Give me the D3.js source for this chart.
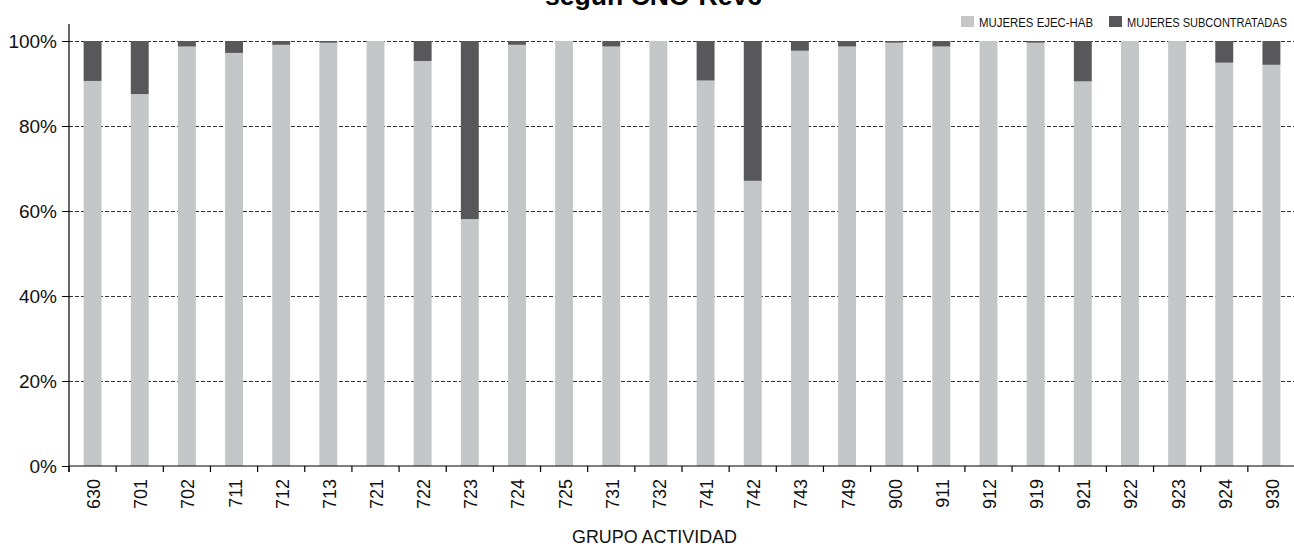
<!DOCTYPE html>
<html>
<head>
<meta charset="utf-8">
<script src="https://cdn.jsdelivr.net/npm/d3@7"></script>
<style>
  body { margin: 0; background: #fff; }
  svg { display: block; }
</style>
</head>
<body>
<script>
// grupos de actividad y reparto (%) de mujeres
const grupos = ["630","701","702","711","712","713","721","722","723","724","725","731","732",
  "741","742","743","749","900","911","912","919","921","922","923","924","930"];
const ejecHab = [90.6, 87.5, 98.7, 97.2, 99.1, 99.6, 100, 95.3, 58.1, 99.1, 100, 98.7, 100,
  90.7, 67.1, 97.7, 98.7, 99.6, 98.7, 100, 99.6, 90.5, 100, 100, 94.9, 94.4];
const subcontratadas = ejecHab.map(v => 100 - v);
const yTicks = [0, 20, 40, 60, 80, 100];
const series = ["MUJERES EJEC-HAB", "MUJERES SUBCONTRATADAS"];
const colores = ["#c5c6c8", "#58585a"];

const width = 1294, height = 546;
const mLeft = 69, mRight = 1295, mTop = 41, mBottom = 466;
const fuente = "'Liberation Sans', Arial, sans-serif";

const svg = d3.select("body").append("svg")
  .attr("width", width)
  .attr("height", height);

const x = d3.scaleBand().domain(grupos).range([mLeft, mRight]).padding(0);
const y = d3.scaleLinear().domain([0, 100]).range([mBottom, mTop]);

const rows = grupos.map((g, i) => ({ grupo: g, ejec: ejecHab[i], sub: subcontratadas[i] }));
const stack = d3.stack().keys(["ejec", "sub"])(rows);

// grid
svg.append("g")
  .selectAll("line")
  .data(yTicks.filter(d => d > 0))
  .join("line")
  .attr("x1", mLeft).attr("x2", width)
  .attr("y1", d => Math.round(y(d)) + 0.5)
  .attr("y2", d => Math.round(y(d)) + 0.5)
  .attr("stroke", "#333")
  .attr("stroke-width", 1)
  .attr("stroke-dasharray", "4,2");

// barras
const barW = x.bandwidth() * 0.38;
svg.append("g")
  .selectAll("g")
  .data(stack)
  .join("g")
  .attr("fill", (d, i) => colores[i])
  .selectAll("rect")
  .data(d => d)
  .join("rect")
  .attr("x", d => x(d.data.grupo) + (x.bandwidth() - barW) / 2)
  .attr("width", barW)
  .attr("y", d => y(d[1]))
  .attr("height", d => y(d[0]) - y(d[1]));

// eje y
const yAxis = svg.append("g")
  .attr("transform", `translate(${mLeft},0)`)
  .call(d3.axisLeft(y).tickValues(yTicks).tickFormat(d => d + "%").tickSize(7).tickPadding(5));
yAxis.select(".domain").remove();
yAxis.selectAll("line").attr("stroke", "#000");
yAxis.selectAll("text")
  .attr("font-family", fuente)
  .attr("font-size", 19)
  .attr("fill", "#111");
svg.append("line")
  .attr("x1", mLeft).attr("x2", mLeft)
  .attr("y1", 24).attr("y2", mBottom + 6)
  .attr("stroke", "#000").attr("stroke-width", 1.2);

// eje x
svg.append("line")
  .attr("x1", mLeft).attr("x2", width)
  .attr("y1", mBottom).attr("y2", mBottom)
  .attr("stroke", "#000").attr("stroke-width", 1.2);
svg.append("g")
  .selectAll("line")
  .data(grupos)
  .join("line")
  .attr("x1", d => x(d)).attr("x2", d => x(d))
  .attr("y1", mBottom).attr("y2", mBottom + 6)
  .attr("stroke", "#000").attr("stroke-width", 1.2);
svg.append("g")
  .selectAll("text")
  .data(grupos)
  .join("text")
  .attr("transform", d => `translate(${x(d) + x.bandwidth() / 2 + 1},479) rotate(-90)`)
  .attr("text-anchor", "end")
  .attr("dy", "0.36em")
  .attr("font-family", fuente)
  .attr("font-size", 18)
  .attr("fill", "#111")
  .text(d => d);

// titulo eje x (letra condensada)
svg.append("text")
  .attr("x", 572).attr("y", 543)
  .attr("textLength", 165)
  .attr("lengthAdjust", "spacingAndGlyphs")
  .attr("font-family", fuente)
  .attr("font-size", 19)
  .attr("fill", "#111")
  .text("GRUPO ACTIVIDAD");

// titulo (cortado arriba)
svg.append("text")
  .attr("x", 545).attr("y", 5)
  .attr("textLength", 217)
  .attr("lengthAdjust", "spacingAndGlyphs")
  .attr("font-family", fuente)
  .attr("font-weight", "bold")
  .attr("font-size", 26)
  .attr("fill", "#000")
  .text("según CNO-Rev6");

// leyenda
const legX = [961, 1109];
const legW = [114, 160];
const leg = svg.append("g")
  .selectAll("g")
  .data(series)
  .join("g")
  .attr("transform", (d, i) => `translate(${legX[i]},16)`);
leg.append("rect")
  .attr("width", 13).attr("height", 11)
  .attr("fill", (d, i) => colores[i]);
leg.append("text")
  .attr("x", 18).attr("y", 10.5)
  .attr("textLength", (d, i) => legW[i])
  .attr("lengthAdjust", "spacingAndGlyphs")
  .attr("font-family", fuente)
  .attr("font-size", 12.5)
  .attr("fill", "#111")
  .text(d => d);
</script>
</body>
</html>
